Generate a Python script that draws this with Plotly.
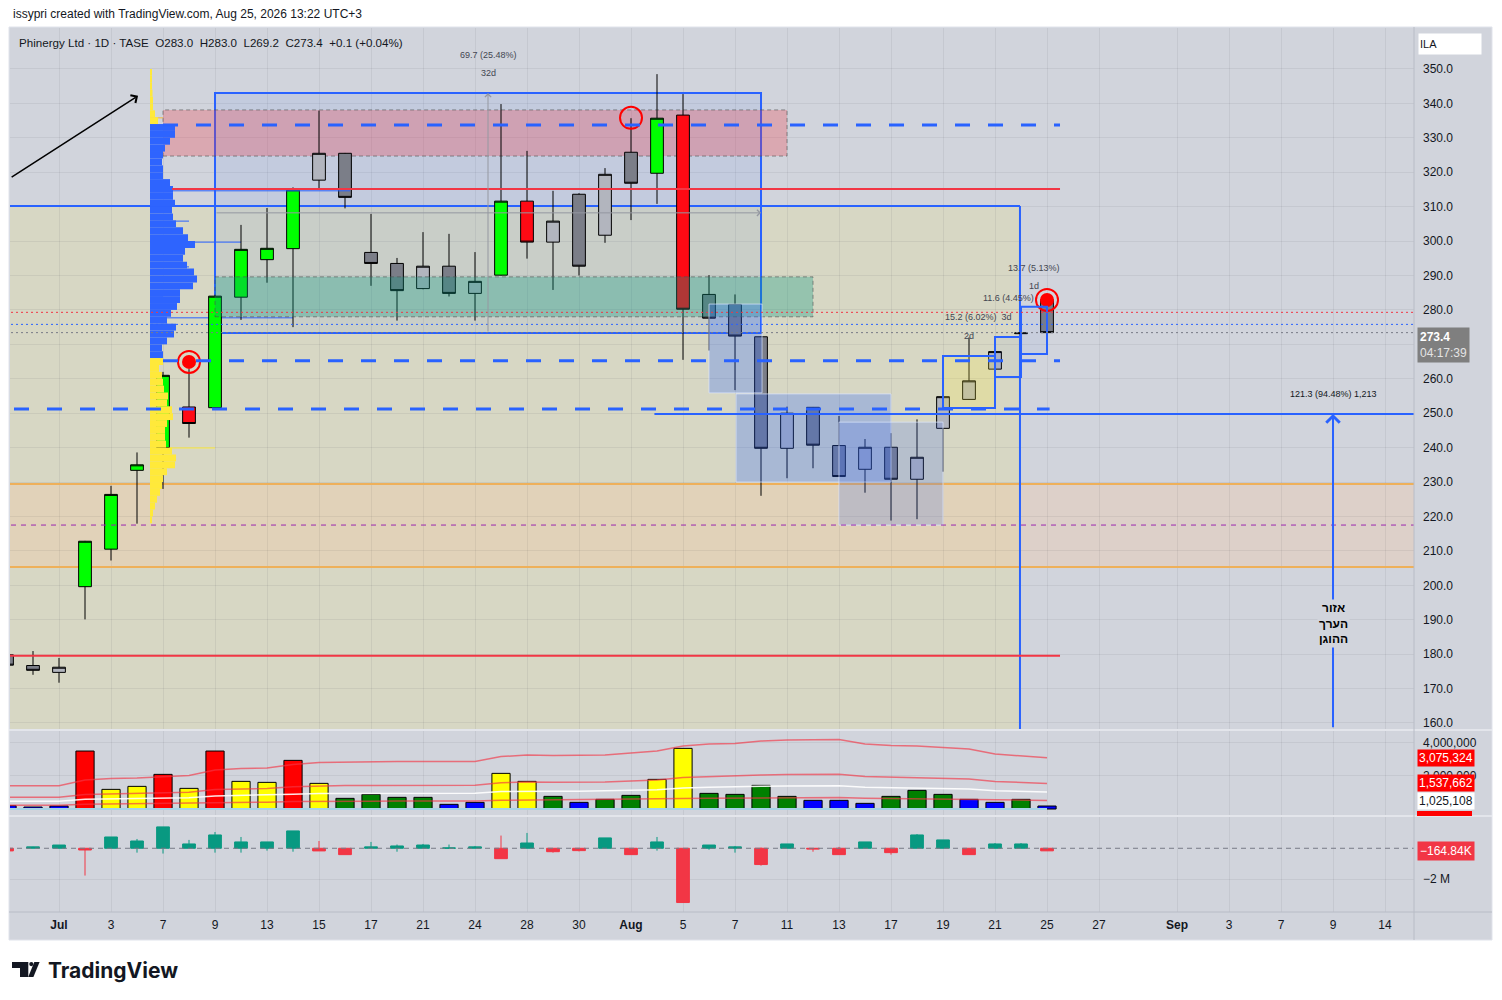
"""Phinergy Ltd (TASE) daily chart, TradingView-style snapshot."""

import plotly.graph_objects as go

# ---- data -----------------------------------------------------------------

DATES = [
    "2026-06-29", "2026-06-30", "2026-07-01", "2026-07-02", "2026-07-03",
    "2026-07-06", "2026-07-07", "2026-07-08", "2026-07-09", "2026-07-10",
    "2026-07-13", "2026-07-14", "2026-07-15", "2026-07-16", "2026-07-17",
    "2026-07-20", "2026-07-21", "2026-07-22", "2026-07-24", "2026-07-27",
    "2026-07-28", "2026-07-29", "2026-07-30", "2026-07-31", "2026-08-03",
    "2026-08-04", "2026-08-05", "2026-08-06", "2026-08-07", "2026-08-10",
    "2026-08-11", "2026-08-12", "2026-08-13", "2026-08-14", "2026-08-17",
    "2026-08-18", "2026-08-19", "2026-08-20", "2026-08-21", "2026-08-24",
    "2026-08-25",
]
FUTURE_DATES = [
    "2026-08-26", "2026-08-27", "2026-08-28", "2026-08-31", "2026-09-01",
    "2026-09-02", "2026-09-03", "2026-09-04", "2026-09-07", "2026-09-08",
    "2026-09-09", "2026-09-10", "2026-09-14", "2026-09-15",
]

OPEN = [179.8, 176.7, 174.7, 199.6, 210.5, 233.4, 240.0, 251.8, 251.6, 283.7,
        294.6, 297.8, 317.7, 325.5, 296.7, 293.5, 286.2, 292.7, 284.8, 290.1,
        311.6, 299.7, 313.6, 301.7, 325.8, 319.7, 336.6, 284.5, 281.6, 272.2,
        239.8, 251.7, 240.6, 233.7, 240.1, 230.8, 245.6, 254.0, 262.8, 273.1,
        283.0]
HIGH = [180.5, 180.9, 178.9, 212.9, 228.9, 238.6, 262.0, 262.8, 284.3, 304.7,
        309.6, 315.6, 337.9, 325.6, 307.9, 295.1, 302.6, 302.1, 296.8, 339.8,
        326.2, 314.6, 313.9, 321.2, 335.7, 348.5, 342.7, 290.1, 284.5, 272.3,
        251.9, 251.8, 249.2, 242.5, 244.2, 248.2, 254.9, 272.0, 268.0, 273.6,
        283.0]
LOW = [176.3, 174.0, 171.7, 190.1, 207.2, 217.9, 228.0, 242.9, 251.2, 277.1,
       287.9, 275.0, 315.0, 309.5, 287.0, 276.9, 286.0, 283.9, 276.9, 290.0,
       294.9, 285.8, 290.0, 299.5, 306.1, 310.8, 265.5, 268.2, 256.7, 226.0,
       231.1, 234.0, 231.5, 226.9, 218.8, 219.2, 233.0, 253.9, 262.7, 272.8,
       269.2]
CLOSE = [176.8, 175.3, 176.2, 212.8, 226.4, 235.0, 261.0, 247.0, 284.0, 297.6,
         297.9, 314.9, 325.5, 312.7, 293.5, 285.6, 292.7, 284.8, 288.3, 311.6,
         299.7, 305.8, 292.7, 319.4, 316.8, 335.7, 280.2, 277.6, 272.4, 239.8,
         250.0, 240.7, 231.6, 240.1, 230.8, 237.2, 254.8, 259.4, 267.9, 273.3,
         273.4]

# bars the chart paints in bright green / red
STRONG_BARS = ["2026-07-02", "2026-07-03", "2026-07-06", "2026-07-07",
               "2026-07-08", "2026-07-09", "2026-07-10", "2026-07-13",
               "2026-07-14", "2026-07-27", "2026-07-28", "2026-08-04",
               "2026-08-05"]

VOLUME = [200000, 120000, 180000, 3480000, 1180000, 1360000, 2080000, 1240000,
          3480000, 1660000, 1600000, 2920000, 1540000, 640000, 880000, 700000,
          700000, 280000, 400000, 2140000, 1660000, 760000, 400000, 580000,
          820000, 1780000, 3640000, 940000, 880000, 1420000, 760000, 520000,
          520000, 340000, 760000, 1120000, 880000, 580000, 400000, 580000,
          180000]
VOLUME_MA = [467000, 467000, 467000, 580000, 610000, 620000, 640000, 670000,
             780000, 810000, 820000, 890000, 930000, 940000, 945000, 950000,
             950000, 950000, 950000, 1050000, 1080000, 1070000, 1070000,
             1080000, 1120000, 1160000, 1260000, 1300000, 1310000, 1360000,
             1380000, 1390000, 1390000, 1300000, 1270000, 1260000, 1230000,
             1200000, 1100000, 1060000, 1025108]
MA_BANDS = [3.0, 1.5, 0.5]

# volume delta candles (open at zero)
DELTA_CLOSE = [-170000, 90000, 210000, -110000, 730000, 470000, 1380000, 280000,
               860000, 410000, 410000, 1120000, -170000, -410000, 90000, 150000,
               210000, 20000, 90000, -670000, 340000, -220000, -150000, 670000,
               -410000, 410000, -3500000, 210000, 90000, -1050000, 280000,
               -40000, -410000, 410000, -280000, 860000, 540000, -410000,
               280000, 280000, -164840]
DELTA_HIGH = [0, 100000, 210000, 0, 730000, 600000, 1380000, 540000, 1050000,
              730000, 410000, 1120000, 470000, 0, 410000, 240000, 280000,
              240000, 150000, 820000, 990000, 0, 0, 670000, 0, 730000, 0,
              210000, 150000, 50000, 280000, 0, 90000, 410000, 0, 920000,
              540000, 0, 340000, 340000, 0]
DELTA_LOW = [-170000, 0, 0, -1760000, 0, -280000, -340000, 0, -280000, -280000,
             -150000, -220000, -170000, -410000, 0, -220000, 0, 0, 0, -670000,
             0, -280000, -200000, 0, -410000, -150000, -3500000, -90000,
             -280000, -1120000, 0, -220000, -410000, 0, -410000, 0, 0, -410000,
             0, 0, -164840]

# visible-range volume profile (relative volume per 2-point price bin)
PROFILE_PRICE = [349, 347, 345, 343, 341, 339, 337, 335, 333, 331, 329, 327,
                 325, 323, 321, 319, 317, 315, 313, 311, 309, 307, 305, 303,
                 301, 299, 297, 295, 293, 291, 289, 287, 285, 283, 281, 279,
                 277, 275, 273, 271, 269, 267, 265, 263, 261, 259, 257, 255,
                 253, 251, 249, 247, 245, 243, 241, 239, 237, 235, 233, 231,
                 229, 227, 225, 223, 221, 219]
PROFILE_VOL = [1, 1.5, 2, 2.5, 3, 3, 5, 8, 25, 25, 20, 15,
               13, 12, 13, 13, 20, 23, 23, 25, 22, 23, 26, 33,
               38, 45, 35, 33, 37, 44, 47, 43, 30, 30, 27, 21,
               17, 26, 24, 17, 12, 13, 13, 9, 12, 13, 14, 18,
               17, 22, 23, 17, 15, 15, 16, 22, 26, 25, 17, 13,
               12, 10, 7, 5, 3, 1]
VALUE_AREA = (265.2, 333.7)

# thin rays of the second (session) profile: price, end date
PROFILE_RAYS = [(335.8, "2026-07-07", "#f5b640"), (326.0, "2026-07-07", "#2962ff"),
                (305.8, "2026-07-08", "#2962ff"), (299.7, "2026-07-10", "#2962ff"),
                (292.5, "2026-07-08", "#2962ff"), (284.0, "2026-07-07", "#2962ff"),
                (277.7, "2026-07-14", "#2962ff"), (256.5, "2026-07-07", "#ffeb3b"),
                (239.9, "2026-07-09", "#ffeb3b")]

# signal marks (date, price, filled)
RING_MARKS = [("2026-07-08", 264.9, True), ("2026-08-03", 335.8, False),
              ("2026-08-25", 282.9, True)]

TICK_DATES = ["2026-07-01", "2026-07-03", "2026-07-07", "2026-07-09", "2026-07-13",
              "2026-07-15", "2026-07-17", "2026-07-21", "2026-07-24", "2026-07-28",
              "2026-07-30", "2026-08-03", "2026-08-05", "2026-08-07", "2026-08-11",
              "2026-08-13", "2026-08-17", "2026-08-19", "2026-08-21", "2026-08-25",
              "2026-08-27", "2026-09-01", "2026-09-03", "2026-09-07", "2026-09-09",
              "2026-09-14"]
TICK_TEXT = ["<b>Jul</b>", "3", "7", "9", "13", "15", "17", "21", "24", "28", "30",
             "<b>Aug</b>", "5", "7", "11", "13", "17", "19", "21", "25", "27",
             "<b>Sep</b>", "3", "7", "9", "14"]
PRICE_TICKS = [160, 170, 180, 190, 200, 210, 220, 230, 240, 250, 260, 270, 280,
               290, 300, 310, 320, 330, 340, 350]
HIDDEN_PRICE_TICKS = [270]  # covered by the last-price label

# ---- styling ----------------------------------------------------------------

BG = "#d1d4dc"
GRID = "rgba(42,46,57,0.07)"
BLUE = "#2962ff"
RED = "#f23645"
INK = "#131722"
FONT = "Liberation Sans, Arial, sans-serif"

ALL_DAYS = DATES + FUTURE_DATES
pos = {d: i for i, d in enumerate(ALL_DAYS)}
n = len(DATES)
X_RANGE = [0.115, 54.115]

# the page body adds an 8px margin, so the figure is 16px smaller than the window
PAGE_PAD = 8


def px(x):
    """Window pixel column -> paper x (plot area spans 10..1414)."""
    return (x - 10) / 1404


def py(y):
    """Window pixel row -> paper y (plot area spans 28..912)."""
    return (912 - y) / 884


fig = go.Figure()

# ---- price candles ------------------------------------------------------------


def candle_group(i):
    up = CLOSE[i] >= OPEN[i]
    strong = DATES[i] in STRONG_BARS
    if strong:
        return "strong_up" if up else "strong_down"
    return "up" if up else "down"


for key, fill in [("up", "#b2b5be"), ("down", "#7b7e88"),
                  ("strong_up", "#00ff00"), ("strong_down", "#ff0a14")]:
    sel = [i for i in range(n) if candle_group(i) == key]
    style = dict(fillcolor=fill, line=dict(color="black", width=1))
    fig.add_trace(go.Candlestick(
        x=[DATES[i] for i in sel],
        open=[OPEN[i] for i in sel], high=[HIGH[i] for i in sel],
        low=[LOW[i] for i in sel], close=[CLOSE[i] for i in sel],
        increasing=style, decreasing=style, whiskerwidth=0,
        xaxis="x", yaxis="y",
    ))

# signal rings
for d, p, filled in RING_MARKS:
    fig.add_trace(go.Scatter(
        x=[d], y=[p], mode="markers", xaxis="x", yaxis="y",
        marker=dict(symbol="circle-open", size=22, color="#ff0000",
                    line=dict(color="#ff0000", width=2)),
    ))
    if filled:
        fig.add_trace(go.Scatter(
            x=[d], y=[p], mode="markers", xaxis="x", yaxis="y",
            marker=dict(symbol="circle", size=14, color="#ff0000"),
        ))

# volume profile on an overlaid axis anchored between Jul 6 and Jul 7
anchor = pos["2026-07-06"] + 0.5
frac = (anchor - X_RANGE[0]) / (X_RANGE[1] - X_RANGE[0])
profile_colors = ["#2e64fe" if VALUE_AREA[0] <= p <= VALUE_AREA[1] else "#ffe93a"
                  for p in PROFILE_PRICE]
fig.add_trace(go.Bar(
    x=PROFILE_VOL, y=PROFILE_PRICE, orientation="h", width=2, base=0,
    marker=dict(color=profile_colors, line=dict(width=0)),
    xaxis="x4", yaxis="y",
))

# ---- volume pane ----------------------------------------------------------------


def vol_color(v, m):
    r = v / m
    if r >= 3:
        return "#ff0000"
    if r >= 1.5:
        return "#ffff00"
    if r >= 0.5:
        return "#008000"
    return "#0000ff"


fig.add_trace(go.Scatter(x=DATES, y=[0] * n, mode="lines", xaxis="x2", yaxis="y2",
                         line=dict(color="#a6d3e6", width=2)))
fig.add_trace(go.Bar(
    x=DATES, y=VOLUME, width=0.7, xaxis="x2", yaxis="y2",
    marker=dict(color=[vol_color(v, m) for v, m in zip(VOLUME, VOLUME_MA)],
                line=dict(color="black", width=1)),
))
for mult in MA_BANDS:
    fig.add_trace(go.Scatter(x=DATES, y=[m * mult for m in VOLUME_MA], mode="lines",
                             xaxis="x2", yaxis="y2",
                             line=dict(color="rgba(242,54,69,0.65)", width=1.5)))
fig.add_trace(go.Scatter(x=DATES, y=VOLUME_MA, mode="lines", xaxis="x2", yaxis="y2",
                         line=dict(color="rgba(255,255,255,0.9)", width=1.5)))

# ---- volume delta pane -----------------------------------------------------------

fig.add_trace(go.Candlestick(
    x=DATES, open=[0] * n, high=DELTA_HIGH, low=DELTA_LOW, close=DELTA_CLOSE,
    increasing=dict(fillcolor="#089981", line=dict(color="#089981", width=1)),
    decreasing=dict(fillcolor=RED, line=dict(color=RED, width=1)),
    whiskerwidth=0, xaxis="x3", yaxis="y3",
))

# ---- drawings -----------------------------------------------------------------

shapes = []


def rect(x0, x1, y0, y1, fill, line=None, width=1, dash=None, layer="above"):
    shapes.append(dict(
        type="rect", xref="x", yref="y", x0=x0, x1=x1, y0=y0, y1=y1,
        fillcolor=fill, layer=layer,
        line=dict(color=line or "rgba(0,0,0,0)", width=width if line else 0, dash=dash),
    ))


def seg(x0, x1, y0, y1, color, width=1, dash=None, layer="above", yref="y"):
    shapes.append(dict(
        type="line", xref="x", yref=yref, x0=x0, x1=x1, y0=y0, y1=y1, layer=layer,
        line=dict(color=color, width=width, dash=dash),
    ))


LEFT, RIGHT = -1, 60
olive_end = pos["2026-08-24"] - 0.04

# large yellow zone and orange band (below the grid)
rect(LEFT, olive_end, 150, 310.2, "rgba(255,235,59,0.15)", layer="below")
rect(LEFT, RIGHT, 205.3, 229.4, "rgba(250,200,160,0.3)", layer="below")
seg(LEFT, RIGHT, 229.4, 229.4, "#eeb05a", 2, layer="between")
seg(LEFT, RIGHT, 205.3, 205.3, "#eeb05a", 2, layer="between")
seg(LEFT, olive_end, 310.2, 310.2, BLUE, 2, layer="between")
seg(olive_end, olive_end, 150, 310.2, BLUE, 2, layer="between")

# date/price range box Jul 9 -> Aug 10
rect(pos["2026-07-09"], pos["2026-08-10"], 273.3, 343.0, "rgba(41,98,255,0.08)",
     line=BLUE, width=2, layer="between")

# supply / demand zones
rect(pos["2026-07-07"], pos["2026-08-11"], 324.7, 338.1, "rgba(242,54,69,0.28)",
     line="rgba(80,80,80,0.6)", dash="4px,3px", layer="between")
rect(pos["2026-07-09"], pos["2026-08-12"], 278.0, 289.6, "rgba(8,153,129,0.32)",
     line="rgba(80,80,80,0.6)", dash="4px,3px")

# consolidation boxes
rect(pos["2026-08-06"], pos["2026-08-10"] + 0.04, 255.9, 281.7, "rgba(41,98,255,0.27)",
     line="rgba(220,230,255,0.7)")
rect(pos["2026-08-07"] + 0.04, pos["2026-08-17"], 230.0, 255.6, "rgba(41,98,255,0.27)",
     line="rgba(220,230,255,0.7)")
rect(pos["2026-08-13"], pos["2026-08-19"], 217.5, 247.4, "rgba(70,110,230,0.22)",
     line="rgba(220,230,255,0.7)")

# small measure boxes on the recovery
rect(pos["2026-08-19"], pos["2026-08-21"], 251.5, 266.6, "rgba(255,235,59,0.22)",
     line=BLUE, width=2)
rect(pos["2026-08-21"], pos["2026-08-24"], 260.5, 272.1, "rgba(41,98,255,0.05)",
     line=BLUE, width=2)
rect(pos["2026-08-24"], pos["2026-08-25"], 267.2, 280.9, "rgba(41,98,255,0.05)",
     line=BLUE, width=2)

# profile rays
for p, end, color in PROFILE_RAYS:
    seg(anchor, pos[end], p, p, color, 1, layer="between")

# key levels
line_end = pos["2026-08-25"] + 0.5
dash_blue = "15px,18px"
seg(pos["2026-07-07"], line_end, VALUE_AREA[1], VALUE_AREA[1], BLUE, 3, dash_blue)
seg(pos["2026-07-07"], line_end, VALUE_AREA[0], VALUE_AREA[0], BLUE, 3, dash_blue)
seg(LEFT, pos["2026-08-25"] + 0.1, 251.2, 251.2, BLUE, 3, dash_blue)
seg(anchor + 0.85, line_end, 315.1, 315.1, RED, 2)
seg(anchor + 0.85, pos["2026-07-17"] - 0.8, 314.6, 314.6, BLUE, 1)
seg(LEFT, line_end, 179.5, 179.5, RED, 2)
seg(LEFT, RIGHT, 217.5, 217.5, "#9c27b0", 1, "5px,5px")
seg(LEFT, RIGHT, 279.3, 279.3, RED, 1, "2px,3px")
seg(LEFT, RIGHT, 275.8, 275.8, BLUE, 1, "2px,3px")
seg(LEFT, RIGHT, CLOSE[-1], CLOSE[-1], "#787b86", 1, "2px,3px")
seg(pos["2026-08-04"] - 0.1, RIGHT, 249.8, 249.8, BLUE, 2)

# zero line in delta pane
shapes.append(dict(type="line", xref="x3", yref="y3", x0=LEFT, x1=RIGHT, y0=0, y1=0,
                   line=dict(color="#787b86", width=1, dash="5px,4px")))

# frame, separators, logo (paper coordinates)
shapes.append(dict(type="rect", xref="paper", yref="paper", layer="below",
                   x0=px(9), x1=px(1492), y0=py(940), y1=py(27),
                   fillcolor=BG, line=dict(color="#e0e3eb", width=1)))
for yy in (730, 816):
    shapes.append(dict(type="line", xref="paper", yref="paper", x0=px(9), x1=px(1492),
                       y0=py(yy), y1=py(yy), line=dict(color="#e9ebf0", width=1.5)))
shapes.append(dict(type="line", xref="paper", yref="paper", x0=px(1414), x1=px(1414),
                   y0=py(940), y1=py(27), line=dict(color="#b8bcc6", width=1)))
shapes.append(dict(type="line", xref="paper", yref="paper", x0=px(9), x1=px(1492),
                   y0=py(912), y1=py(912), line=dict(color="#b8bcc6", width=1)))
shapes.append(dict(type="rect", xref="paper", yref="paper", x0=px(1417), x1=px(1472),
                   y0=py(816), y1=py(811), fillcolor="#ff0000", line=dict(width=0)))
shapes.append(dict(type="path", xref="paper", yref="paper", fillcolor=INK,
                   line=dict(width=0),
                   path=(f"M{px(12)},{py(962)} L{px(28.3)},{py(962)} L{px(28.3)},{py(977)} "
                         f"L{px(20)},{py(977)} L{px(20)},{py(968)} L{px(12)},{py(968)} Z")))
shapes.append(dict(type="circle", xref="paper", yref="paper", fillcolor=INK,
                   line=dict(width=0), x0=px(29.2), x1=px(33.4), y0=py(966.2), y1=py(962)))
shapes.append(dict(type="path", xref="paper", yref="paper", fillcolor=INK,
                   line=dict(width=0),
                   path=(f"M{px(34.3)},{py(962)} L{px(39.6)},{py(962)} "
                         f"L{px(33.4)},{py(977)} L{px(28.2)},{py(977)} Z")))

# ---- annotations ------------------------------------------------------------------

ann = []


def label(x, y, text, size=10, color="#434651", **kw):
    ann.append(dict(x=x, y=y, xref="x", yref="y", text=text, showarrow=False,
                    xanchor="center", yanchor="middle",
                    font=dict(size=size, color=color), **kw))


def arrow(x0, y0, x1, y1, color, width=1, size=1.0):
    ann.append(dict(x=x1, y=y1, ax=x0, ay=y0, xref="x", yref="y", axref="x", ayref="y",
                    text="", showarrow=True, arrowhead=4, arrowsize=size,
                    arrowwidth=width, arrowcolor=color, standoff=0, startstandoff=0))


def side_label(yref, y, text, bg, fg="white", yshift=0, pad=1):
    ann.append(dict(xref="paper", yref=yref, x=px(1417), y=y, xanchor="left",
                    yanchor="middle", yshift=yshift, text=text, showarrow=False,
                    bgcolor=bg, borderpad=pad, font=dict(color=fg, size=12)))


def page_text(x, y, text, size=12, family=FONT):
    ann.append(dict(xref="paper", yref="paper", x=px(x), y=py(y), xanchor="left",
                    yanchor="middle", text=text, showarrow=False,
                    font=dict(size=size, color=INK, family=family)))


mid = (pos["2026-07-09"] + pos["2026-08-10"]) / 2
arrow(mid, 273.3, mid, 343.0, "#9598a1", 1, 1.2)
arrow(pos["2026-07-09"], 308.2, pos["2026-08-10"], 308.2, "#9598a1", 1, 1.2)
label(mid, 354.1, "69.7 (25.48%)", 9)
label(mid, 348.8, "32d", 9)

label(pos["2026-08-20"], 272.4, "2d", 9)
label(pos["2026-08-20"] + 0.35, 278.0, "15.2 (6.02%)  3d", 9)
label(pos["2026-08-21"] + 0.5, 283.5, "11.6 (4.45%)", 9)
label(pos["2026-08-24"] + 0.5, 287.0, "1d", 9)
label(pos["2026-08-24"] + 0.5, 292.2, "13.7 (5.13%)", 9)

# fair value zone arrow
fv = pos["2026-09-09"]
arrow(fv, 158.3, fv, 249.8, BLUE, 2, 1.3)
label(fv, 255.6, "121.3 (94.48%) 1,213", 9, INK)
label(fv, 189.0, "<b>אזור<br>הערך<br>ההוגן</b>", 12, "#000000", bgcolor=BG)

# hand-drawn black arrow toward the profile top
arrow(pos["2026-06-29"] + 0.12, 318.3, pos["2026-07-06"] + 0.04, 342.2, "#000000", 1.5, 1.2)

# axis-side labels
side_label("y2", VOLUME_MA[-1] * 3, "3,075,324", "#ff0000")
side_label("y2", VOLUME_MA[-1] * 1.5, "1,537,662", "#ff0000")
side_label("y2", VOLUME_MA[-1], "1,025,108", "white", fg=INK, yshift=-9)
side_label("y3", DELTA_CLOSE[-1], "−164.84K", RED, pad=2)
ann.append(dict(xref="paper", yref="y", x=px(1417), y=CLOSE[-1], yanchor="top", yshift=6,
                xanchor="left", align="left", showarrow=False, bgcolor="#7f7f7f",
                borderpad=2,
                text=f"<b>{CLOSE[-1]:.1f}</b><br><span style='color:#e4e4e4'>04:17:39</span>",
                font=dict(color="white", size=12)))
ann.append(dict(xref="paper", yref="paper", x=px(1418), y=py(44), xanchor="left",
                yanchor="middle", text="ILA", showarrow=False, bgcolor="white",
                width=60, height=18, align="left", font=dict(color=INK, size=11)))

# header + legend
chg = CLOSE[-1] - CLOSE[-2]
pct = chg / CLOSE[-2] * 100
sp = "&nbsp;&nbsp;"
legend = (f"Phinergy Ltd · 1D · TASE{sp}O{OPEN[-1]:.1f}{sp}H{HIGH[-1]:.1f}{sp}"
          f"L{LOW[-1]:.1f}{sp}C{CLOSE[-1]:.1f}{sp}{chg:+.1f} ({pct:+.2f}%)")
page_text(17, 42, legend, 11.6)
page_text(11, 14, "issypri created with TradingView.com, Aug 25, 2026 13:22 UTC+3")
page_text(46, 970, "<b>TradingView</b>", 21, family="Inter, Roboto, sans-serif")

# ---- layout ---------------------------------------------------------------------

xcommon = dict(type="category", categoryorder="array", categoryarray=ALL_DAYS,
               range=X_RANGE, autorange=False, tickvals=TICK_DATES, ticktext=TICK_TEXT,
               showgrid=True, gridcolor=GRID, gridwidth=1, zeroline=False,
               showline=False, ticks="", rangeslider=dict(visible=False))

price_text = ["" if v in HIDDEN_PRICE_TICKS else f"{v:.1f}" for v in PRICE_TICKS]

fig.update_layout(
    width=1502 - 2 * PAGE_PAD, height=1000 - 2 * PAGE_PAD,
    margin=dict(l=10 - PAGE_PAD, r=1502 - PAGE_PAD - 1414, t=28 - PAGE_PAD,
                b=1000 - PAGE_PAD - 912),
    paper_bgcolor="white", plot_bgcolor=BG,
    showlegend=False, hovermode=False,
    font=dict(family=FONT, size=12, color=INK),
    shapes=shapes, annotations=ann,
    xaxis=dict(xcommon, anchor="y", showticklabels=False),
    xaxis2=dict(xcommon, anchor="y2", showticklabels=False, matches="x"),
    xaxis3=dict(xcommon, anchor="y3", showticklabels=True, matches="x",
                tickfont=dict(size=12, color=INK), ticklabelstandoff=4),
    xaxis4=dict(overlaying="x", anchor="y", visible=False,
                range=[-frac * 1404, (1 - frac) * 1404]),
    yaxis=dict(domain=[0.2070, 1.0], range=[158.25, 361.9], side="right",
               tickvals=PRICE_TICKS, ticktext=price_text,
               gridcolor=GRID, zeroline=False, ticks="", ticklabelstandoff=8,
               tickfont=dict(size=12, color=INK)),
    yaxis2=dict(domain=[0.1097, 0.2048], range=[-360000, 4685000], side="right",
                tickvals=[2000000, 4000000], ticktext=["2,000,000", "4,000,000"],
                gridcolor=GRID, zeroline=False, ticks="", ticklabelstandoff=8,
                tickfont=dict(size=12, color=INK)),
    yaxis3=dict(domain=[0.0, 0.1075], range=[-4110000, 2020000], side="right",
                tickvals=[-2000000], ticktext=["−2 M"],
                gridcolor=GRID, zeroline=False, ticks="", ticklabelstandoff=8,
                tickfont=dict(size=12, color=INK)),
    boxgap=0.3,
)

fig.write_html("out.html")
